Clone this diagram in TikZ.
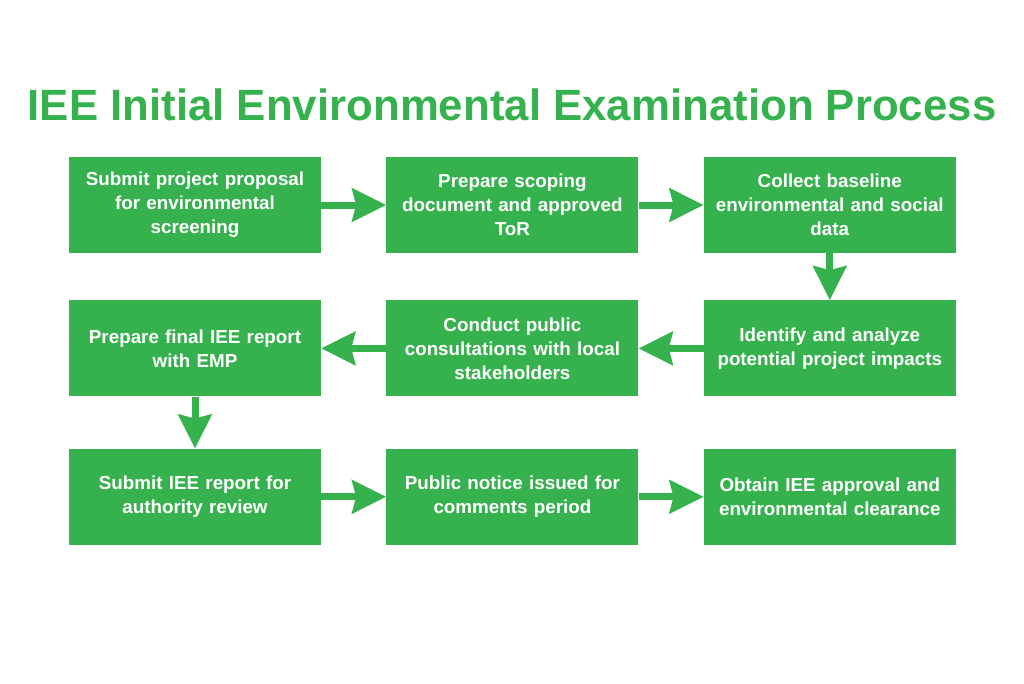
\documentclass[tikz,border=0pt]{standalone}
\usepackage{fontspec}
\setmainfont{Liberation Sans}
\usetikzlibrary{arrows.meta,positioning}
\definecolor{leafGreen}{RGB}{53,178,78}

\begin{document}
\begin{tikzpicture}[x=1pt, y=1pt,
      node distance=47pt and 65pt,
      stepbox/.style={fill=leafGreen, text=white, minimum width=252pt, minimum height=96pt,
        text width=246pt, align=center, inner sep=0pt,
        font=\fontsize{18.8}{24}\selectfont\bfseries},
      link/.style={draw=leafGreen, line width=7pt, -{Stealth[length=34pt, width=33pt, inset=4pt]}}
    ]
      \fill[white] (0,0) rectangle (1024,-683);
      \useasboundingbox (0,0) rectangle (1024,-683);
      \node[text=leafGreen, font=\fontsize{43.8}{50}\selectfont\bfseries] (title) at (512,-105)
        {IEE Initial Environmental Examination Process};

      % first row
      \node[stepbox] (submit) at (195,-205) {Submit project proposal\\for environmental\\screening};
      \node[stepbox, right=of submit] (scoping) {Prepare scoping\\document and approved\\ToR};
      \node[stepbox, right=of scoping] (baseline) {Collect baseline\\environmental and social\\data};
      % second row
      \node[stepbox, below=of baseline] (impacts) {Identify and analyze\\potential project impacts};
      \node[stepbox, left=of impacts] (consult) {Conduct public\\consultations with local\\stakeholders};
      \node[stepbox, left=of consult] (final) {Prepare final IEE report\\with EMP};
      % third row
      \node[stepbox, below=52pt of final] (review) {Submit IEE report for\\authority review};
      \node[stepbox, right=of review] (notice) {Public notice issued for\\comments period};
      \node[stepbox, right=of notice] (approval) {Obtain IEE approval and\\environmental clearance};

      \draw[link] (submit) -- (scoping);
      \draw[link] (scoping) -- (baseline);
      \draw[link] (baseline) -- (impacts);
      \draw[link] (impacts) -- (consult);
      \draw[link] (consult) -- (final);
      \draw[link] (final) -- (review);
      \draw[link] (review) -- (notice);
      \draw[link] (notice) -- (approval);
    \end{tikzpicture}
\end{document}
